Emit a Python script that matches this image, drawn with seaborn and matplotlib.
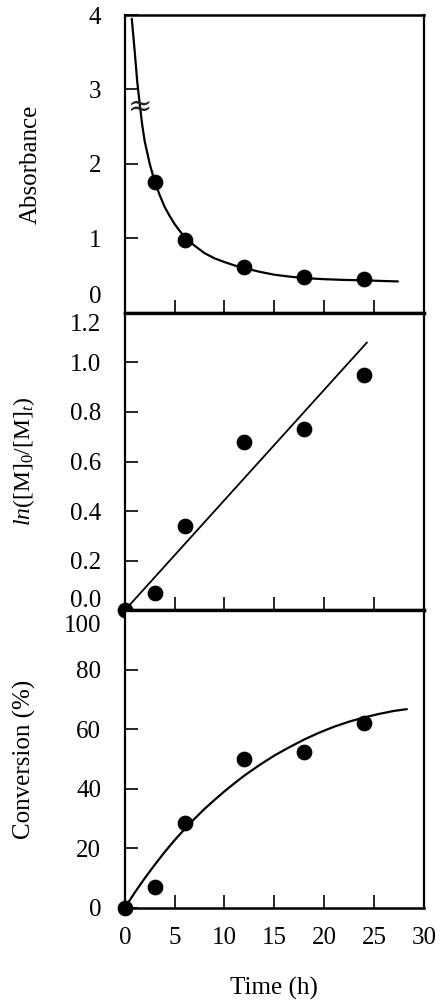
import numpy as np
import pandas as pd
import matplotlib
matplotlib.use('Agg')
import matplotlib.pyplot as plt
import matplotlib.transforms as mtransforms
import seaborn as sns

## Measured data
time_pts = [3, 6, 12, 18, 24]
absorb_pts = [1.76, 0.98, 0.61, 0.48, 0.45]

absorb_curve_x = [0.7, 1.0, 1.25, 1.5, 1.75, 2.0, 2.5, 3.0, 3.5, 4.0, 4.5, 5.0, 5.5, 6.0, 7.0, 8.0,
                  9.0, 10.0, 11.0, 12.0, 13.5, 15.0, 16.5, 18.0, 20.0, 22.0, 24.0, 26.0, 27.4]
absorb_curve_y = [3.95, 3.5, 3.1, 2.8, 2.52, 2.3, 2.0, 1.76, 1.58, 1.42, 1.3, 1.19, 1.1, 1.02, 0.9, 0.8,
                  0.73, 0.68, 0.635, 0.6, 0.55, 0.51, 0.485, 0.465, 0.45, 0.44, 0.435, 0.425, 0.42]

time_all = [0, 3, 6, 12, 18, 24]
lnm_pts = [0.0, 0.07, 0.34, 0.68, 0.73, 0.95]
lnm_fit_x = [0, 24.3]
lnm_fit_y = [0, 1.08]

conv_pts = [0, 7, 28.7, 50, 52.3, 62.2]
conv_curve_x = [0, 1, 2, 3, 4, 5, 6, 7, 8, 9, 10, 11, 12, 13.5, 15, 16.5, 18, 19.5, 21, 22.5, 24, 25.5, 27, 28.3]
conv_curve_y = [0, 5.2, 10, 14.5, 18.8, 22.8, 26.5, 30, 33.3, 36.3, 39.2, 41.9, 44.5, 48, 51.2, 54,
                56.6, 58.9, 60.9, 62.6, 64, 65.2, 66.2, 66.8]

sns.set_style('ticks')
plt.rcParams['font.family'] = ['Liberation Serif', 'DejaVu Serif']
plt.rcParams['mathtext.fontset'] = 'custom'
plt.rcParams['mathtext.rm'] = 'Liberation Serif'
plt.rcParams['mathtext.it'] = 'Liberation Serif:italic'

fig, axes = plt.subplots(3, 1, figsize=(4.41, 10), dpi=100, sharex=True)
fig.subplots_adjust(left=0.283, right=0.961, top=0.985, bottom=0.092, hspace=0)

fs = 18
ax1, ax2, ax3 = axes

## Absorbance
sns.lineplot(x=absorb_curve_x, y=absorb_curve_y, ax=ax1, color='black', lw=1.6, sort=False)
sns.scatterplot(x=time_pts, y=absorb_pts, ax=ax1, color='black', s=110, edgecolor='black', zorder=3)
ax1.text(1.5, 2.76, '\u2248', fontsize=21, ha='center', va='center', family='DejaVu Serif')
ax1.set_ylim(0, 4)
ax1.set_yticks([0, 1, 2, 3, 4])
ax1.set_ylabel('Absorbance', fontsize=fs, labelpad=34)

## ln([M]0/[M]t)
sns.lineplot(x=lnm_fit_x, y=lnm_fit_y, ax=ax2, color='black', lw=1.3)
sns.scatterplot(x=time_all, y=lnm_pts, ax=ax2, color='black', s=110, edgecolor='black', zorder=3, clip_on=False)
ax2.set_ylim(0, 1.2)
ax2.set_yticks([0, 0.2, 0.4, 0.6, 0.8, 1.0, 1.2])
ax2.set_yticklabels(['0.0', '0.2', '0.4', '0.6', '0.8', '1.0', '1.2'])
ax2.set_ylabel(r'$\mathit{ln}$([M]$_0$/[M]$_t$)', fontsize=fs - 1, labelpad=24)

## Conversion
sns.lineplot(x=conv_curve_x, y=conv_curve_y, ax=ax3, color='black', lw=1.6)
sns.scatterplot(x=time_all, y=conv_pts, ax=ax3, color='black', s=110, edgecolor='black', zorder=3, clip_on=False)
ax3.set_ylim(0, 100)
ax3.set_yticks([0, 20, 40, 60, 80, 100])
ax3.set_ylabel('Conversion (%)', fontsize=fs, labelpad=20)
ax3.set_xlim(0, 30)
ax3.set_xticks([0, 5, 10, 15, 20, 25, 30])
ax3.set_xlabel('Time (h)', fontsize=fs, labelpad=20)

for ax in axes:
    ax.tick_params(axis='both', direction='in', length=9.5, width=1.2, labelsize=fs,
                   color='black', labelcolor='black')
    ax.tick_params(axis='y', pad=17, right=False)
    ax.tick_params(axis='x', pad=14, top=False)
    for side in ['left', 'right']:
        ax.spines[side].set_linewidth(1.6)
        ax.spines[side].set_color('black')
    for side in ['top', 'bottom']:
        ax.spines[side].set_linewidth(2.4)
        ax.spines[side].set_color('black')
    ax.xaxis.label.set_color('black')
    ax.yaxis.label.set_color('black')
ax1.spines['top'].set_linewidth(1.8)
ax3.spines['bottom'].set_linewidth(1.8)

## nudge crowded labels at the panel joins
def shift(label, dy):
    label.set_transform(label.get_transform() + mtransforms.ScaledTranslation(0, dy / 100, fig.dpi_scale_trans))

shift(ax1.get_yticklabels()[0], 18)
shift(ax2.get_yticklabels()[-1], -10)
shift(ax2.get_yticklabels()[0], 12)
shift(ax3.get_yticklabels()[-1], -13)

fig.savefig('out.png', dpi=100)
